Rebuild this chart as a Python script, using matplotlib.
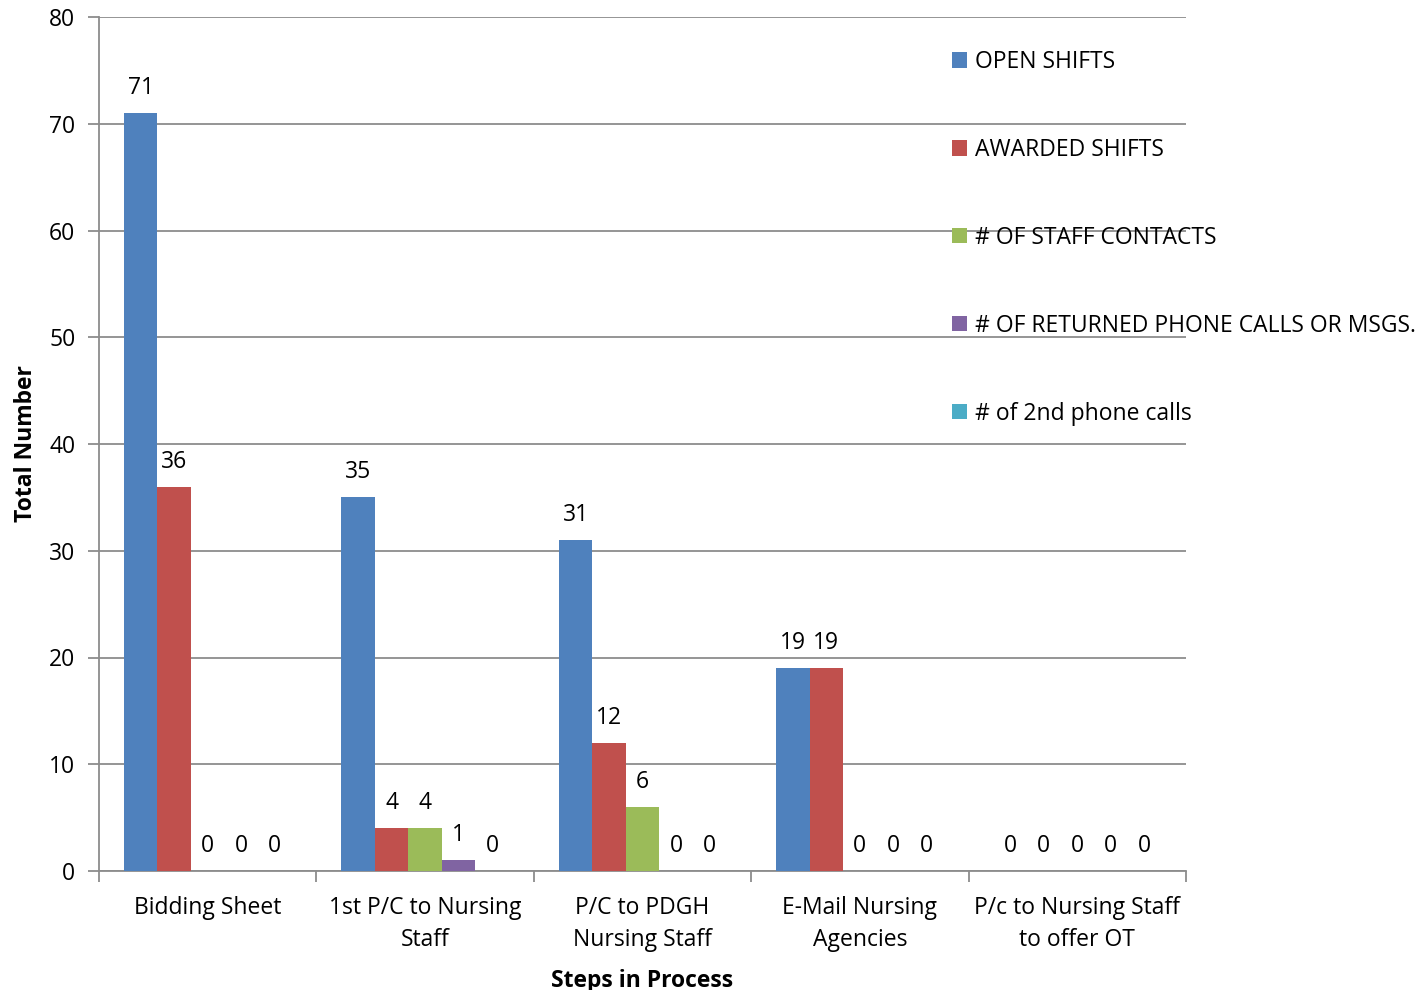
import matplotlib
matplotlib.use("Agg")
import matplotlib.pyplot as plt
import numpy as np

plt.rcParams['font.family'] = ['Open Sans', 'DejaVu Sans']

categories = ["Bidding Sheet", "1st P/C to Nursing\nStaff", "P/C to PDGH\nNursing Staff",
              "E-Mail Nursing\nAgencies", "P/c to Nursing Staff\nto offer OT"]
series_names = ["OPEN SHIFTS", "AWARDED SHIFTS", "# OF STAFF CONTACTS",
                "# OF RETURNED PHONE CALLS OR MSGS.", "# of 2nd phone calls"]
open_shifts = [71, 35, 31, 19, 0]
awarded_shifts = [36, 4, 12, 19, 0]
staff_contacts = [0, 4, 6, 0, 0]
returned_calls = [0, 1, 0, 0, 0]
second_calls = [0, 0, 0, 0, 0]
colors = ["#4F81BD", "#C0504D", "#9BBB59", "#8064A2", "#4BACC6"]

all_series = [open_shifts, awarded_shifts, staff_contacts, returned_calls, second_calls]
FS = 16.5

fig = plt.figure(figsize=(14.22, 9.9), dpi=100)
ax = fig.add_axes([99/1422, 1 - 871/990, (1186-99)/1422, (871-17)/990])

x = np.arange(len(categories))
width = 0.154
n = len(all_series)
for i, (vals, name, col) in enumerate(zip(all_series, series_names, colors)):
    pos = x + (i - (n - 1) / 2) * width
    ax.bar(pos, vals, width, color=col, label=name, zorder=3)
    for p, v in zip(pos, vals):
        ax.annotate(f"{v}", (p, v), xytext=(0, 9.3), textcoords="offset points",
                    ha="center", va="bottom", fontsize=FS, color="black")

ax.set_xlim(-0.5, len(categories) - 0.5)
ax.set_ylim(0, 80)
ax.set_yticks(range(0, 81, 10))
ax.yaxis.grid(True, color="#8c8c8c", linewidth=1.3, zorder=0)
ax.set_axisbelow(True)

ax.set_xticks(x)
ax.set_xticklabels(categories, fontsize=FS, linespacing=1.45)
ax.set_xticks(np.arange(-0.5, len(categories)), minor=True)
ax.tick_params(axis="x", which="major", length=0, pad=18)
ax.tick_params(axis="x", which="minor", length=8, width=1.3, color="#8c8c8c", direction="out")
ax.tick_params(axis="y", length=8, width=1.3, color="#8c8c8c", direction="out", labelsize=FS, pad=9)

for side in ["top", "right"]:
    ax.spines[side].set_visible(False)
for side in ["left", "bottom"]:
    ax.spines[side].set_color("#8c8c8c")
    ax.spines[side].set_linewidth(1.3)

ax.set_ylabel("Total Number", fontsize=FS, fontweight="bold", labelpad=8)
ax.set_xlabel("Steps in Process", fontsize=FS, fontweight="bold", labelpad=12)

leg = ax.legend(loc="upper left", bbox_to_anchor=(952/1422, 1 - 50/990),
                bbox_transform=fig.transFigure, frameon=False, fontsize=FS,
                handlelength=0.65, handleheight=0.65, handletextpad=0.35,
                labelspacing=2.79, borderaxespad=0, borderpad=0)

fig.savefig("out.png", dpi=100)
